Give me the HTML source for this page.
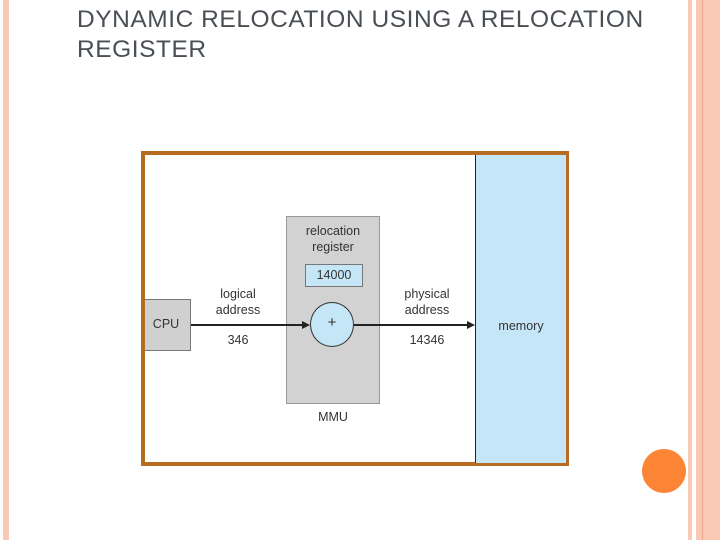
<!DOCTYPE html>
<html><head><meta charset="utf-8"><style>
body{margin:0;width:720px;height:540px;background:#fff;position:relative;overflow:hidden;font-family:"Liberation Sans",sans-serif}
.a{position:absolute}
.t{position:absolute;font-size:12.5px;color:#333;text-align:center;line-height:16px}
</style></head><body>
<div class="a" style="left:3px;top:0;width:6px;height:540px;background:#f9c9b6"></div>
<div class="a" style="left:688px;top:0;width:4px;height:540px;background:#f9c9b6"></div>
<div class="a" style="left:696px;top:0;width:24px;height:540px;background:#f9c9b6"></div>
<div class="a" style="left:702px;top:0;width:1px;height:540px;background:#eea890"></div>
<div class="a" style="left:642px;top:449px;width:44px;height:44px;border-radius:50%;background:#fb8535"></div>
<div class="a" style="left:77px;top:5px;font-size:24.5px;color:#4a4f55;line-height:30px;letter-spacing:0.55px">DYNAMIC RELOCATION USING A RELOCATION<br>REGISTER</div>
<div class="a" style="left:141px;top:151px;width:420px;height:307px;border:4px solid #b86c22;background:#fff"></div>
<div class="a" style="left:475px;top:155px;width:90px;height:308px;background:#c5e6f7;border-left:1px solid #222"></div>
<div class="a" style="left:145px;top:299px;width:45px;height:50px;background:#d0d0d0;border:1px solid #777;border-left:none"></div>
<div class="t" style="left:145px;top:316px;width:42px">CPU</div>
<div class="a" style="left:286px;top:216px;width:92px;height:186px;background:#d2d2d2;border:1px solid #999"></div>
<div class="t" style="left:286px;top:223px;width:94px">relocation<br>register</div>
<div class="a" style="left:305px;top:264px;width:56px;height:21px;background:#c5e6f7;border:1px solid #777"></div>
<div class="t" style="left:305px;top:267px;width:58px">14000</div>
<div class="a" style="left:191px;top:324px;width:116px;height:1.5px;background:#222"></div>
<div class="a" style="left:302px;top:321px;border-left:8px solid #222;border-top:4px solid transparent;border-bottom:4px solid transparent"></div>
<div class="a" style="left:354px;top:324px;width:114px;height:1.5px;background:#222"></div>
<div class="a" style="left:467px;top:321px;border-left:8px solid #222;border-top:4px solid transparent;border-bottom:4px solid transparent"></div>
<div class="a" style="left:310px;top:302px;width:42px;height:43px;border-radius:50%;background:#c5e6f7;border:1px solid #333"></div>
<div class="t" style="left:310px;top:315px;width:44px;font-size:15px">+</div>
<div class="t" style="left:198px;top:286px;width:80px">logical<br>address</div>
<div class="t" style="left:198px;top:332px;width:80px">346</div>
<div class="t" style="left:387px;top:286px;width:80px">physical<br>address</div>
<div class="t" style="left:387px;top:332px;width:80px">14346</div>
<div class="t" style="left:476px;top:318px;width:90px">memory</div>
<div class="t" style="left:286px;top:409px;width:94px">MMU</div>
</body></html>
